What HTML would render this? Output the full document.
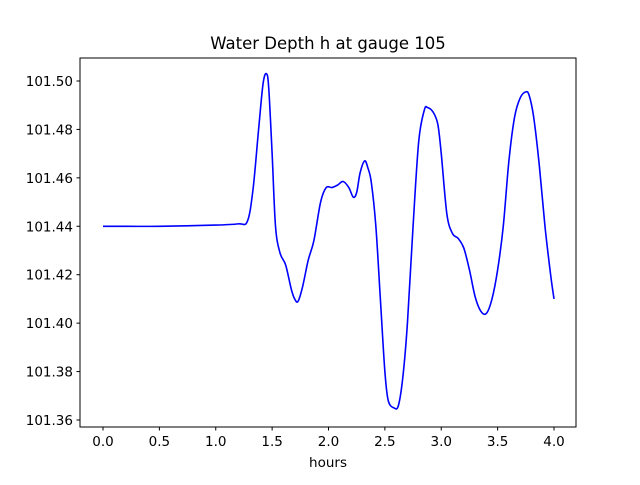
<!DOCTYPE html>
<html><head><meta charset="utf-8"><style>
body{margin:0;background:#fff;}
svg text{font-family:"DejaVu Sans","Liberation Sans",sans-serif;fill:#000;}
</style></head><body>
<svg id="chart" width="640" height="480">
<rect x="0" y="0" width="640" height="480" fill="#fff"/>
<text x="328" y="49" font-size="16.5" text-anchor="middle">Water Depth h at gauge 105</text>
<g id="xt"></g><g id="yt"></g>
<path id="line" fill="none" stroke="#0000ff" stroke-width="1.6"/>
<rect x="80" y="58" width="496" height="369" fill="none" stroke="#000" stroke-width="1"/>
<text x="328" y="467" font-size="13.5" text-anchor="middle">hours</text>
</svg>
<script>
const hours=[0,0.5,1.0,1.2,1.28,1.33,1.38,1.42,1.45,1.47,1.5,1.53,1.57,1.62,1.67,1.7,1.73,1.77,1.82,1.87,1.93,1.98,2.03,2.08,2.13,2.18,2.22,2.25,2.28,2.32,2.35,2.38,2.42,2.46,2.5,2.53,2.58,2.62,2.66,2.7,2.75,2.8,2.85,2.88,2.93,2.97,3.0,3.05,3.1,3.15,3.2,3.25,3.3,3.35,3.4,3.45,3.5,3.55,3.6,3.65,3.7,3.75,3.78,3.82,3.87,3.92,3.97,4.0];
const depth=[101.440,101.440,101.4405,101.441,101.442,101.455,101.48,101.499,101.503,101.497,101.47,101.44,101.429,101.424,101.414,101.410,101.409,101.415,101.426,101.434,101.450,101.456,101.456,101.457,101.4585,101.456,101.452,101.454,101.462,101.467,101.464,101.458,101.44,101.41,101.38,101.368,101.365,101.366,101.378,101.40,101.44,101.475,101.488,101.489,101.487,101.482,101.47,101.445,101.437,101.435,101.431,101.422,101.411,101.405,101.404,101.410,101.422,101.44,101.467,101.485,101.493,101.4955,101.494,101.485,101.465,101.44,101.42,101.410];
const xTicks=[0,0.5,1.0,1.5,2.0,2.5,3.0,3.5,4.0];
const xLabels=["0.0","0.5","1.0","1.5","2.0","2.5","3.0","3.5","4.0"];
const yTicks=[101.36,101.38,101.40,101.42,101.44,101.46,101.48,101.50];
const yLabels=["101.36","101.38","101.40","101.42","101.44","101.46","101.48","101.50"];
const X=v=>103+v*112.75;
const Y=v=>420-(v-101.36)/0.02*48.43;
const NS="http://www.w3.org/2000/svg";
const xt=document.getElementById('xt'),yt=document.getElementById('yt');
xTicks.forEach((t,i)=>{
 const l=document.createElementNS(NS,'line');
 l.setAttribute('x1',X(t));l.setAttribute('x2',X(t));l.setAttribute('y1',427);l.setAttribute('y2',430.5);l.setAttribute('stroke','#000');
 
 
 xt.appendChild(l);
 const tx=document.createElementNS(NS,'text');
 tx.setAttribute('x',X(t));tx.setAttribute('y',446);tx.setAttribute('font-size','13.5');tx.setAttribute('text-anchor','middle');
 tx.textContent=xLabels[i];
 
 
 xt.appendChild(tx);
});
yTicks.forEach((t,i)=>{
 const l=document.createElementNS(NS,'line');
 l.setAttribute('x1',76.5);l.setAttribute('x2',80);l.setAttribute('y1',Y(t));l.setAttribute('y2',Y(t));l.setAttribute('stroke','#000');
 
 
 yt.appendChild(l);
 const tx=document.createElementNS(NS,'text');
 tx.setAttribute('x',73);tx.setAttribute('y',Y(t)+5);tx.setAttribute('font-size','13.5');tx.setAttribute('text-anchor','end');
 tx.textContent=yLabels[i];
 
 
 yt.appendChild(tx);
});
// smooth Catmull-Rom path
const pts=hours.map((h,i)=>[X(h),Y(depth[i])]);
let d='M'+pts[0][0]+','+pts[0][1];
for(let i=0;i<pts.length-1;i++){
 const p0=pts[Math.max(i-1,0)],p1=pts[i],p2=pts[i+1],p3=pts[Math.min(i+2,pts.length-1)];
 d+=' C'+(p1[0]+(p2[0]-p0[0])/6)+','+(p1[1]+(p2[1]-p0[1])/6)+' '+(p2[0]-(p3[0]-p1[0])/6)+','+(p2[1]-(p3[1]-p1[1])/6)+' '+p2[0]+','+p2[1];
}
document.getElementById('line').setAttribute('d',d);
</script>
</body></html>
